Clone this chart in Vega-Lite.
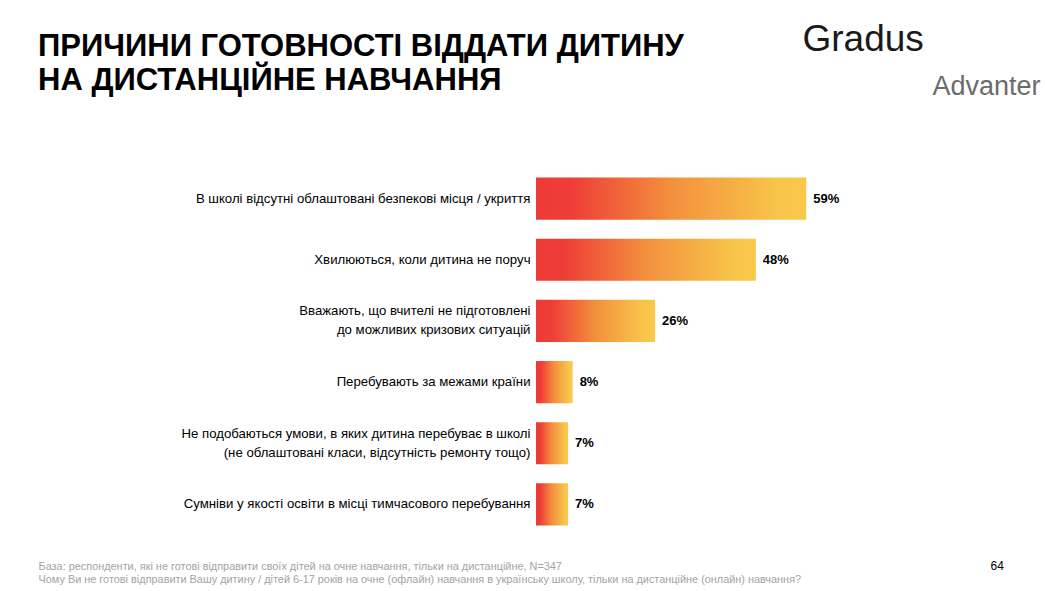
{
  "$schema": "https://vega.github.io/schema/vega-lite/v6.json",
  "autosize": "none",
  "width": 458,
  "height": 367,
  "padding": {"left": 536, "top": 168, "right": 52, "bottom": 56},
  "background": "white",
  "config": {"view": {"stroke": null}, "font": "Liberation Sans"},
  "title": {
    "text": ["ПРИЧИНИ ГОТОВНОСТІ ВІДДАТИ ДИТИНУ", "НА ДИСТАНЦІЙНЕ НАВЧАННЯ"],
    "orient": "none",
    "anchor": "start",
    "frame": "group",
    "dx": -498,
    "dy": -136,
    "font": "Liberation Sans",
    "fontSize": 31,
    "fontWeight": "bold",
    "color": "#000000",
    "lineHeight": 34,
    "baseline": "top",
    "align": "left",
    "offset": 0
  },
  "data": {
    "values": [
      {"reason": "В школі відсутні облаштовані безпекові місця / укриття", "pct": 0.59},
      {"reason": "Хвилюються, коли дитина не поруч", "pct": 0.48},
      {"reason": "Вважають, що вчителі не підготовлені|до можливих кризових ситуацій", "pct": 0.26},
      {"reason": "Перебувають за межами країни", "pct": 0.08},
      {"reason": "Не подобаються умови, в яких дитина перебуває в школі|(не облаштовані класи, відсутність ремонту тощо)", "pct": 0.07},
      {"reason": "Сумніви у якості освіти в місці тимчасового перебування", "pct": 0.07}
    ]
  },
  "resolve": {"scale": {"x": "independent", "y": "independent"}, "axis": {"x": "independent", "y": "independent"}},
  "layer": [
    {
      "mark": {
        "type": "bar",
        "color": {
          "gradient": "linear",
          "x1": 0, "y1": 0, "x2": 1, "y2": 0,
          "stops": [
            {"offset": 0, "color": "#EE3A37"},
            {"offset": 0.13, "color": "#EE3D37"},
            {"offset": 0.5, "color": "#F3903D"},
            {"offset": 0.9, "color": "#F8C54A"},
            {"offset": 1, "color": "#F9C84B"}
          ]
        }
      },
      "encoding": {
        "y": {
          "field": "reason",
          "type": "nominal",
          "sort": null,
          "scale": {"paddingInner": 0.31, "paddingOuter": 0.155},
          "axis": {
            "orient": "left",
            "title": "64",
            "titleAngle": 0,
            "titleX": 454,
            "titleY": 397,
            "titleAlign": "left",
            "titleBaseline": "middle",
            "titleFont": "Liberation Sans",
            "titleFontSize": 12,
            "titleFontWeight": "normal",
            "titleColor": "#000000",
            "domain": false,
            "ticks": false,
            "grid": false,
            "labelPadding": 6,
            "labelFont": "Liberation Sans",
            "labelFontSize": 13.2,
            "labelColor": "#000000",
            "labelLineHeight": 19,
            "labelLimit": 500,
            "labelExpr": "split(datum.label, '|')",
            "labelOffset": {"condition": {"test": "indexof(datum.value, '|') >= 0", "value": -9.5}, "value": 0}
          }
        },
        "x": {
          "field": "pct",
          "type": "quantitative",
          "scale": {"domain": [0, 1]},
          "axis": {
            "orient": "bottom",
            "domain": false,
            "ticks": false,
            "labels": false,
            "grid": false,
            "title": [
              "База: респонденти, які не готові відправити своїх дітей на очне навчання, тільки на дистанційне, N=347",
              "Чому Ви не готові відправити Вашу дитину / дітей 6-17 років на очне (офлайн) навчання в українську школу, тільки на дистанційне (онлайн) навчання?"
            ],
            "titleX": -498,
            "titleY": 25,
            "titleAlign": "left",
            "titleBaseline": "top",
            "titleFont": "Liberation Sans",
            "titleFontSize": 10.9,
            "titleFontWeight": "normal",
            "titleColor": "#A3A3A3",
            "titleLineHeight": 13
          }
        }
      }
    },
    {
      "mark": {
        "type": "text",
        "align": "left",
        "baseline": "middle",
        "dx": 7,
        "font": "Liberation Sans",
        "fontSize": 13,
        "fontWeight": "bold",
        "color": "#000000"
      },
      "encoding": {
        "y": {
          "field": "reason",
          "type": "nominal",
          "sort": null,
          "scale": {"paddingInner": 0.31, "paddingOuter": 0.155},
          "axis": {
            "orient": "right",
            "labels": false,
            "domain": false,
            "ticks": false,
            "grid": false,
            "title": "Advanter",
            "titleAngle": 0,
            "titleX": -62,
            "titleY": -82,
            "titleAlign": "left",
            "titleBaseline": "middle",
            "titleFont": "Liberation Sans",
            "titleFontSize": 27,
            "titleFontWeight": "normal",
            "titleColor": "#6B6B6B"
          }
        },
        "x": {
          "field": "pct",
          "type": "quantitative",
          "scale": {"domain": [0, 1]},
          "axis": {
            "orient": "top",
            "domain": false,
            "ticks": false,
            "labels": false,
            "grid": false,
            "title": "Gradus",
            "titleX": 266,
            "titleY": -129,
            "titleAlign": "left",
            "titleBaseline": "middle",
            "titleFont": "Liberation Sans",
            "titleFontSize": 37,
            "titleFontWeight": "normal",
            "titleColor": "#1A1A1A"
          }
        },
        "text": {"field": "pct", "type": "quantitative", "format": ".0%"}
      }
    }
  ]
}
